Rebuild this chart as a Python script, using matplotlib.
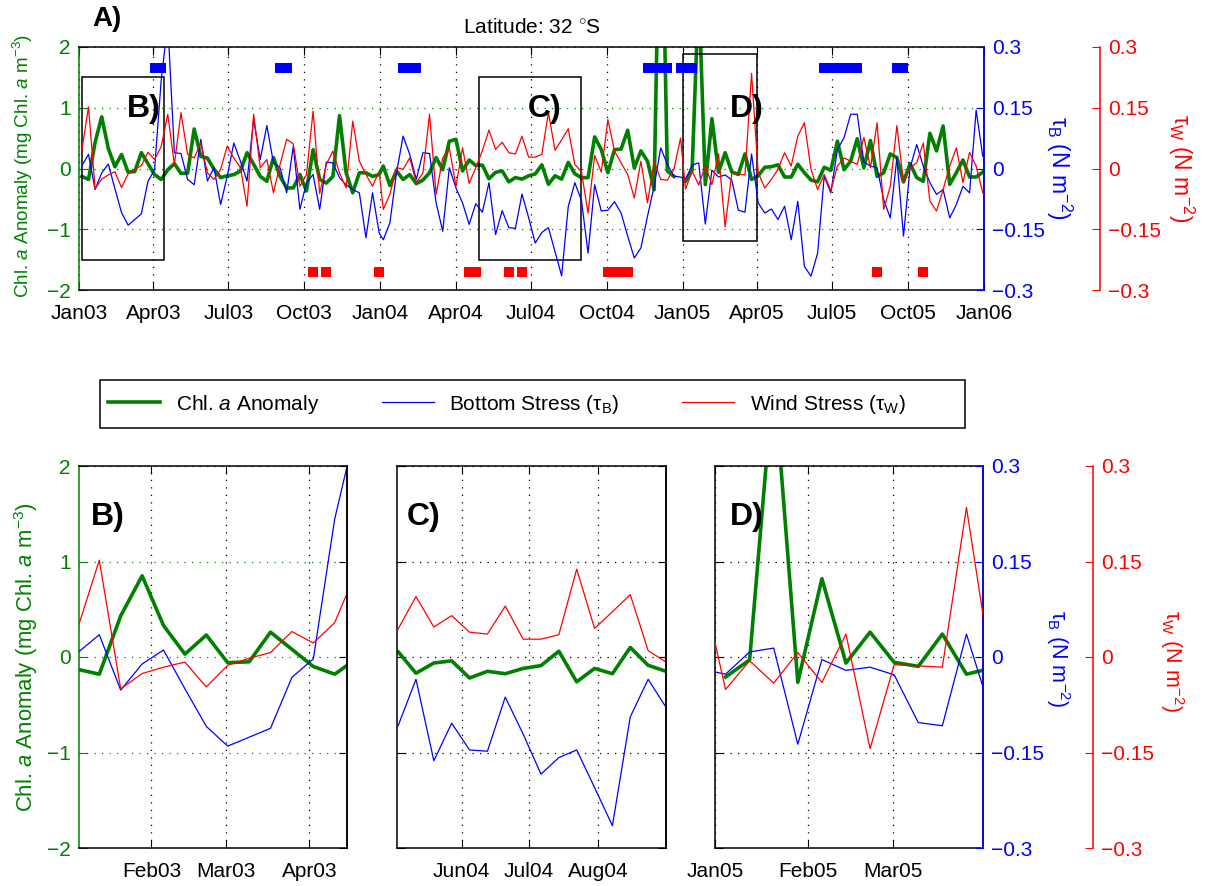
import numpy as np
import matplotlib.pyplot as plt
import matplotlib.dates as mdates
from matplotlib.patches import Rectangle
from datetime import datetime, timedelta

plt.rcParams['font.family'] = ['Liberation Sans', 'DejaVu Sans']
plt.rcParams['mathtext.fontset'] = 'custom'
plt.rcParams['mathtext.rm'] = 'Liberation Sans'
plt.rcParams['mathtext.it'] = 'Liberation Sans:italic'

GREEN = '#008000'
BLUE = '#0000ff'
RED = '#ff0000'

# 8-day composites, 46 per year (index k = composite number in the year)
years = [2003, 2004, 2005]

chl_2003 = [-0.13, -0.18, 0.43, 0.85, 0.33, 0.03, 0.23, -0.06, -0.05, 0.26, 0.08, -0.10, -0.18, -0.02,
            0.08, -0.08, -0.08, 0.65, 0.20, 0.17, -0.01, -0.15, -0.12,
            -0.10, -0.04, 0.26, 0.07, -0.13, -0.21, 0.18, -0.13, -0.32, -0.32, -0.10, -0.37, 0.31,
            -0.18, -0.24, -0.13, 0.87, -0.07, -0.40, -0.07, -0.07, -0.13, -0.10]
chl_2004 = [0.04, -0.28, -0.04, -0.18, -0.10, -0.25, -0.19, -0.07, 0.18, -0.02, 0.45, 0.48, -0.04, 0.14, 0.05,
            0.056, -0.17, -0.063, -0.04, -0.22, -0.15, -0.175, -0.12, -0.09, 0.06, -0.26, -0.12, -0.175,
            0.10, -0.087, -0.15,
            -0.15, 0.52, 0.31, -0.07, 0.31, 0.32, 0.63, 0.01, 0.29, 0.12, -0.35, 5.5, -0.04, -0.13, np.nan]
chl_2005 = [-0.21, -0.03, 2.95, -0.265, 0.82, -0.063, 0.26, -0.056, -0.098, 0.24, -0.18, -0.12,
            0.02, 0.03, 0.06, -0.14, -0.14, 0.07, -0.07, -0.19, -0.22, 0.02, -0.03, 0.45, -0.02, 0.12,
            0.49, 0.01, 0.46, -0.13, -0.07, 0.24, 0.18, -0.22, 0.08, -0.15, -0.21, 0.58, 0.29, 0.70,
            -0.26, -0.07, 0.14, -0.14, -0.14, -0.06]

taub_2003 = [0.007, 0.035, -0.052, -0.011, 0.011, -0.05, -0.109, -0.14, -0.126, -0.112, -0.032, -0.003,
             0.217, 0.36,
             0.039, 0.037, -0.027, -0.040, 0.072, -0.031, 0.002, -0.089, -0.019,
             0.063, 0.018, -0.031, 0.121, 0.022, 0.106, 0.014, 0.002, -0.060, 0.055, -0.101, -0.035,
             -0.015, -0.101, 0.016, 0.014, -0.023, -0.040, -0.052, -0.060, -0.171, -0.060, -0.159]
taub_2004 = [-0.176, -0.134, -0.011, 0.080, 0.035, -0.027, 0.039, 0.037, -0.085, -0.155, 0.002, -0.048,
             -0.085, -0.138, -0.087,
             -0.108, -0.035, -0.163, -0.104, -0.146, -0.148, -0.063, -0.121, -0.184, -0.158, -0.146,
             -0.205, -0.265, -0.094, -0.035, -0.079,
             -0.209, -0.040, -0.105, -0.103, -0.082, -0.110, -0.167, -0.221, -0.196, -0.118, -0.044,
             0.051, 0.010, -0.019, -0.021]
taub_2005 = [-0.027, 0.008, 0.014, -0.137, -0.004, -0.021, -0.016, -0.028, -0.103, -0.108, 0.036, -0.085,
             -0.110, -0.100, -0.126, -0.093, -0.176, -0.081, -0.242, -0.266, -0.209, -0.019, -0.060,
             0.047, 0.076, 0.134, 0.134, 0.016, 0.006, 0.002, -0.077, -0.122, 0.026, -0.167, 0.002,
             0.059, 0.006, -0.035, -0.064, -0.052, -0.122, -0.089, -0.044, -0.060, 0.144, 0.030]

tauw_2003 = [0.046, 0.152, -0.050, -0.026, -0.016, -0.008, -0.047, -0.013, -0.002, 0.007, 0.040, 0.022,
             0.054, 0.134,
             0.010, 0.138, 0.035, 0.026, 0.063, -0.011, -0.027, -0.002, 0.055,
             0.026, 0.002, -0.093, 0.134, 0.002, 0.022, -0.060, 0.010, 0.072, 0.061, -0.044, -0.015,
             0.142, -0.062, 0.010, 0.043, -0.011, -0.048, 0.117, 0.018, -0.015, -0.044, -0.007]
tauw_2004 = [-0.101, -0.064, 0.002, -0.002, 0.026, -0.035, -0.011, 0.134, -0.064, 0.026, 0.051, -0.044,
             0.051, -0.037, 0.002,
             0.044, 0.095, 0.047, 0.065, 0.039, 0.036, 0.080, 0.028, 0.028, 0.035, 0.138, 0.045,
             0.071, 0.098, 0.010, -0.008,
             -0.110, 0.032, -0.009, 0.121, 0.043, 0.014, -0.015, -0.073, 0.018, -0.085, 0.018,
             -0.027, -0.029, -0.002, 0.075]
tauw_2005 = [-0.051, -0.006, -0.041, 0.007, -0.040, 0.036, -0.144, -0.012, -0.014, -0.016, 0.235, -0.01,
             -0.048, -0.027, -0.002, 0.039, 0.006, 0.080, 0.113, -0.002, -0.052, -0.015, -0.054, 0.006,
             0.026, 0.018, 0.010, 0.077, 0.002, 0.113, -0.101, -0.044, 0.106, -0.035, 0.002, 0.014,
             0.063, -0.081, -0.105, -0.052, 0.006, 0.051, -0.035, 0.040, 0.006, -0.060]

# composites flagged as events (year -> composite indices)
bottom_events = {2003: [11, 12, 30, 31], 2004: [3, 4, 5, 40, 41, 42, 43, 45],
                 2005: [0, 1, 21, 22, 23, 24, 25, 26, 32, 33]}
wind_events = {2003: [35, 37, 45], 2004: [13, 14, 19, 21, 34, 35, 36, 37], 2005: [29, 36]}

# zoom windows outlined in panel A: (start, end, chl min, chl max)
box_B = (datetime(2003, 1, 5), datetime(2003, 4, 14), -1.5, 1.5)
box_C = (datetime(2004, 4, 30), datetime(2004, 8, 31), -1.5, 1.5)
box_D = (datetime(2005, 1, 1), datetime(2005, 4, 1), -1.19, 1.885)


def composite_dates(year, idx):
    return [datetime(year, 1, 1) + timedelta(days=3.5 + 8 * k) for k in idx]


dates = sum([composite_dates(y, range(46)) for y in years], [])
chl = np.array(chl_2003 + chl_2004 + chl_2005, dtype=float)
taub = np.array(taub_2003 + taub_2004 + taub_2005)
tauw = np.array(tauw_2003 + tauw_2004 + tauw_2005)
bev_dates = sum([composite_dates(y, bottom_events[y]) for y in years], [])
wev_dates = sum([composite_dates(y, wind_events[y]) for y in years], [])

W, H = 1207, 886
FS = 15
DOTS = (0, (1, 5))
fig = plt.figure(figsize=(W / 100, H / 100), dpi=100)

chl_ticks = [-2, -1, 0, 1, 2]
stress_ticks = [-0.3, -0.15, 0, 0.15, 0.3]
stress_labels = ['\u22120.3', '\u22120.15', '0', '0.15', '0.3']
lbl_chl = r'Chl. $\it{a}$ Anomaly (mg Chl. $\it{a}$ m$^{-3}$)'
lbl_tb = r'τ$_{\rm B}$ (N m$^{-2}$)'
lbl_tw = r'τ$_{\rm W}$ (N m$^{-2}$)'


def px_axes(left, top, right, bottom):
    return fig.add_axes([left / W, 1 - bottom / H, (right - left) / W, (bottom - top) / H])


def panel(box, xlim, months, left_col, right_col, grid_col, chl_lbl, stress_lbl, red_pos=None):
    ax = px_axes(*box)
    tb = ax.twinx()
    l1, = ax.plot(dates, chl, color=GREEN, lw=2.6)
    l2, = tb.plot(dates, taub, color=BLUE, lw=0.9)
    tr = tb
    if red_pos is not None:
        tr = ax.twinx()
    l3, = tr.plot(dates, tauw, color=RED, lw=0.9)
    ax.set_xlim(*xlim)
    ax.set_ylim(-2, 2)
    ax.set_yticks(chl_ticks)
    ax.xaxis.set_major_locator(mdates.MonthLocator(bymonth=months))
    ax.xaxis.set_major_formatter(mdates.DateFormatter('%b%y'))
    ax.grid(axis='x', color='black', ls=DOTS, lw=0.9)
    ax.grid(axis='y', color=grid_col, ls=DOTS, lw=0.9)
    ax.tick_params(axis='x', direction='in', length=6, top=True, labelsize=FS, pad=10)
    ax.tick_params(axis='y', direction='in', length=6, colors=left_col, labelsize=FS, pad=6,
                   labelleft=chl_lbl)
    ax.spines['left'].set_color(left_col)
    for t in (tb, tr):
        t.set_ylim(-0.3, 0.3)
        t.set_yticks(stress_ticks)
        t.set_yticklabels(stress_labels)
        for s in ('top', 'bottom', 'left'):
            t.spines[s].set_visible(False)
    tb.spines['right'].set_color(right_col)
    tb.tick_params(axis='y', direction='in', length=6, colors=right_col, labelsize=FS, pad=6,
                   labelright=stress_lbl)
    if red_pos is not None:
        tr.spines['right'].set_position(('axes', red_pos))
        tr.spines['right'].set_color(RED)
        tr.tick_params(axis='y', direction='in', length=6, colors=RED, labelsize=FS, pad=6)
    for a in (ax, tb, tr):
        for s in a.spines.values():
            s.set_linewidth(1.1)
    return ax, tr, (l1, l2, l3)


# panel A
axA, topA, lines = panel((79, 47, 984, 290), (datetime(2003, 1, 1), datetime(2006, 1, 1)), [1, 4, 7, 10],
                         GREEN, BLUE, GREEN, True, True, red_pos=1 + 116 / 905)
topA.plot(bev_dates, [0.247] * len(bev_dates), 's', color=BLUE, ms=7.2, mew=0)
topA.plot(wev_dates, [-0.255] * len(wev_dates), 's', color=RED, ms=7.2, mew=0)
for (x0, x1, y0, y1), name, tx in zip((box_B, box_C, box_D), ('B)', 'C)', 'D)'),
                                      (0.072, 0.515, 0.738)):
    xa, xb = mdates.date2num(x0), mdates.date2num(x1)
    axA.add_patch(Rectangle((xa, y0), xb - xa, y1 - y0, fill=False, ec='black', lw=1.1, zorder=5))
    topA.text(tx, 0.745, name, transform=axA.transAxes, fontsize=23, fontweight='bold',
              ha='center', va='center')
axA.set_title(r'Latitude: 32 $^{\circ}$S', fontsize=15, pad=10)
fig.text(107 / W, 1 - 19 / H, 'A)', fontsize=20, fontweight='bold', ha='center', va='center')
fig.text(23 / W, 1 - 166 / H, lbl_chl, color=GREEN, fontsize=13.6, rotation=90, ha='center', va='center')
fig.text(1059 / W, 1 - 168 / H, lbl_tb, color=BLUE, fontsize=16.5, rotation=270, ha='center', va='center')
fig.text(1181 / W, 1 - 168 / H, lbl_tw, color=RED, fontsize=16.5, rotation=270, ha='center', va='center')

# zoomed panels
axB, _, _ = panel((79, 466, 347, 848), (datetime(2003, 1, 4, 22), datetime(2003, 4, 15, 2)), range(1, 13),
                  GREEN, 'black', GREEN, True, False)
axC, _, _ = panel((397, 466, 666, 848), (datetime(2004, 5, 3), datetime(2004, 8, 31, 12)), range(1, 13),
                  'black', 'black', 'black', False, False)
axD, _, _ = panel((715, 466, 983, 848), (datetime(2005, 1, 1), datetime(2005, 3, 31)), range(1, 13),
                  'black', BLUE, 'black', False, True, red_pos=1 + 110 / 268)
for a, name, tx in zip((axB, axC, axD), ('B)', 'C)', 'D)'), (0.108, 0.1, 0.12)):
    a.text(tx, 0.866, name, transform=a.transAxes, fontsize=23, fontweight='bold',
           ha='center', va='center', zorder=10)
fig.text(26 / W, 1 - 657 / H, lbl_chl, color=GREEN, fontsize=15.9, rotation=90, ha='center', va='center')
fig.text(1058 / W, 1 - 659 / H, lbl_tb, color=BLUE, fontsize=15.5, rotation=270, ha='center', va='center')
fig.text(1172 / W, 1 - 661 / H, lbl_tw, color=RED, fontsize=15.5, rotation=270, ha='center', va='center')

# legend: entries drawn at left, frame drawn separately like the original
fig.legend(lines, [r'Chl. $\it{a}$ Anomaly', r'Bottom Stress (τ$_{\rm B}$)', r'Wind Stress (τ$_{\rm W}$)'],
           loc='center left', bbox_to_anchor=(108 / W, 1 - 404 / H), ncol=3, fontsize=FS,
           frameon=False, handlelength=2.5, handletextpad=0.75, columnspacing=3.0, borderpad=0,
           borderaxespad=0)
fig.patches.append(Rectangle((100 / W, 1 - 428 / H), 865 / W, 48 / H, transform=fig.transFigure,
                             fill=False, ec='black', lw=1.1))

fig.savefig('out.png', dpi=100)
